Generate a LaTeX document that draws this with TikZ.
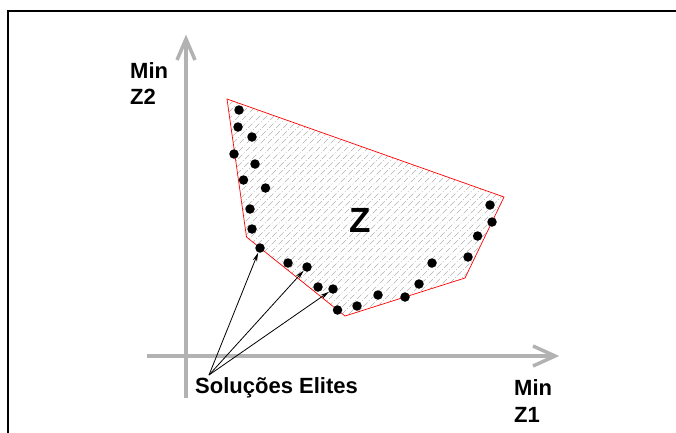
\documentclass[tikz,border=0pt]{standalone}
\usepackage{fontspec}
\setmainfont{Liberation Sans}
\usetikzlibrary{arrows.meta}
\begin{document}
\begin{tikzpicture}[x=1pt,y=-1pt,
  axisline/.style={draw=black!30,line width=3.5pt},
  axishead/.style={draw=black!30,line width=3.5pt,line cap=butt,line join=miter},
  region/.style={draw=red,line width=0.7pt},
  hatchline/.style={draw=black!30,line width=0.6pt,dash pattern=on 6pt off 2pt on 1pt off 2pt},
  sol/.style={circle,fill=black,draw=none,minimum size=9.5pt,inner sep=0pt},
  lbl/.style={font=\bfseries\fontsize{22}{26}\selectfont,inner sep=0pt,anchor=base west},
  pointer/.style={draw=black,line width=0.8pt,-{Stealth[length=9pt,width=4.5pt]}}]
\useasboundingbox (0,0) rectangle (676,432);
% frame
\draw[line width=2pt] (8,440) -- (8,11) -- (680,11);
% axes
\coordinate (ybot) at (186,398);
\coordinate (ytop) at (186,39);
\coordinate (xleft) at (147,356);
\coordinate (xright) at (555,356);
\draw[axisline] (ybot) -- (ytop);
\draw[axisline] (xleft) -- (xright);
\draw[axishead] (177,60) -- (ytop) -- (195,60);
\draw[axishead] (533,346) -- (xright) -- (533,366);
% region
\coordinate (p1) at (227,99);
\coordinate (p2) at (504,197);
\coordinate (p3) at (465,278);
\coordinate (p4) at (345,316);
\coordinate (p5) at (246.5,237);
\begin{scope}
\clip (p1) -- (p2) -- (p3) -- (p4) -- (p5) -- cycle;
\foreach \i in {-10,-3,...,510} {
  \draw[hatchline] (\i,330) -- ({\i+250},80);
}
\end{scope}
\draw[region] (p1) -- (p2) -- (p3) -- (p4) -- (p5) -- cycle;
% Z label
\node[font=\bfseries\fontsize{35}{35}\selectfont,inner sep=0pt] (zlabel) at (360,220) {Z};
% solutions
\node[sol] (d1) at (239,110) {};
\node[sol] (d2) at (238,127) {};
\node[sol] (d3) at (252,137) {};
\node[sol] (d4) at (234,154) {};
\node[sol] (d5) at (255,164) {};
\node[sol] (d6) at (243.5,180) {};
\node[sol] (d7) at (265.5,188) {};
\node[sol] (d8) at (250,209) {};
\node[sol] (d9) at (252,229) {};
\node[sol] (d10) at (260,248) {};
\node[sol] (d11) at (288,263) {};
\node[sol] (d12) at (307,267) {};
\node[sol] (d13) at (318,287) {};
\node[sol] (d14) at (333,289) {};
\node[sol] (d15) at (337.5,310) {};
\node[sol] (d16) at (357,306) {};
\node[sol] (d17) at (378,295) {};
\node[sol] (d18) at (405,297) {};
\node[sol] (d19) at (419,284) {};
\node[sol] (d20) at (432,263) {};
\node[sol] (d21) at (468,257) {};
\node[sol] (d22) at (477.6,236) {};
\node[sol] (d23) at (492,222) {};
\node[sol] (d24) at (490,205) {};
% labels
\node[lbl] (ylab1) at (130,78) {Min};
\node[lbl] (ylab2) at (130,104) {Z2};
\node[lbl] (xlab1) at (514,395) {Min};
\node[lbl] (xlab2) at (514,422) {Z1};
\node[lbl] (elite) at (195,393) {Soluções Elites};
\coordinate (src) at (209,375);
\draw[pointer] (src) -- (d10);
\draw[pointer] (src) -- (d12);
\draw[pointer] (src) -- (d14);
\end{tikzpicture}
\end{document}
